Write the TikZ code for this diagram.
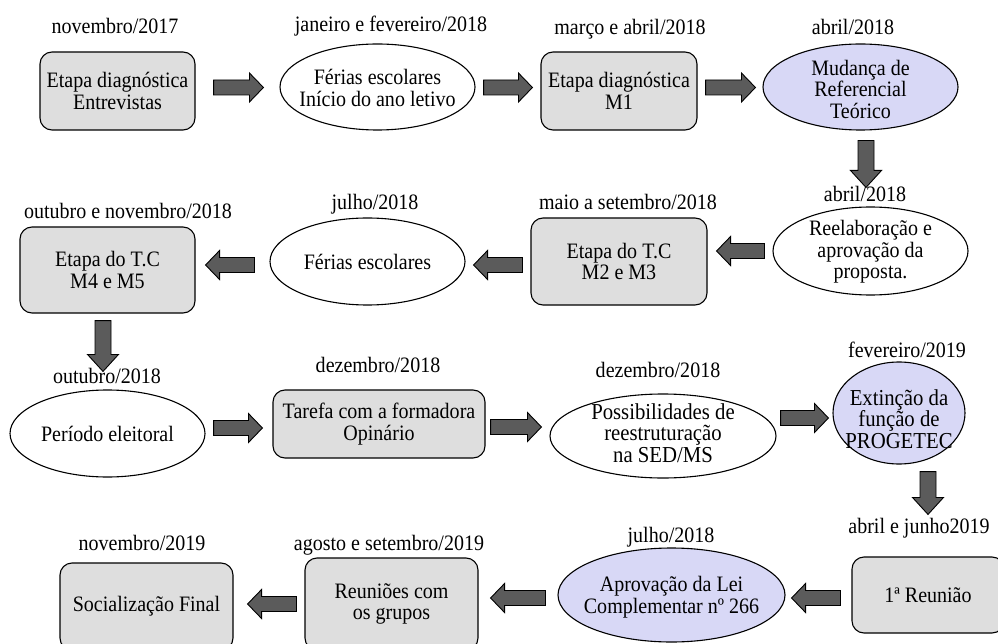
\documentclass[tikz,border=0pt]{standalone}
\usepackage{fontspec}
\setmainfont{Liberation Serif}[FakeStretch=0.91]
\usetikzlibrary{calc,shapes.geometric}
\definecolor{boxgray}{HTML}{DEDEDE}
\definecolor{ellblue}{HTML}{D8D8F6}
\definecolor{arrgray}{HTML}{5B5B5B}
\tikzset{
  every node/.style={font=\fontsize{22}{21.5}\selectfont},
  rbox/.style={draw, line width=1.1pt, fill=boxgray, rounded corners=12pt, align=center, inner sep=0pt},
  ell/.style={draw, line width=1.1pt, ellipse, fill=white, inner sep=0pt},
  bell/.style={ell, fill=ellblue},
  txt/.style={align=center, inner sep=0pt},
  bigtxt/.style={txt, font=\fontsize{22.8}{21.5}\selectfont},
  datelbl/.style={anchor=base, inner sep=0pt},
  blk/.style={draw=black, fill=arrgray, line width=0.9pt, line join=miter},
  blkR/.style={blk, to path={let \p1=(\tikztostart), \p2=(\tikztotarget) in
    ({\x1},{\y1+7.5pt}) -- ({\x2-14pt},{\y1+7.5pt}) -- ({\x2-14pt},{\y1+14.5pt}) -- ({\x2},{\y1})
    -- ({\x2-14pt},{\y1-14.5pt}) -- ({\x2-14pt},{\y1-7.5pt}) -- ({\x1},{\y1-7.5pt}) -- cycle}},
  blkL/.style={blk, to path={let \p1=(\tikztostart), \p2=(\tikztotarget) in
    ({\x1},{\y1+7.5pt}) -- ({\x2+14pt},{\y1+7.5pt}) -- ({\x2+14pt},{\y1+14.5pt}) -- ({\x2},{\y1})
    -- ({\x2+14pt},{\y1-14.5pt}) -- ({\x2+14pt},{\y1-7.5pt}) -- ({\x1},{\y1-7.5pt}) -- cycle}},
  blkD/.style={blk, to path={let \p1=(\tikztostart), \p2=(\tikztotarget) in
    ({\x1-8pt},{\y1}) -- ({\x1-8pt},{\y2+17pt}) -- ({\x1-15.5pt},{\y2+17pt}) -- ({\x1},{\y2})
    -- ({\x1+15.5pt},{\y2+17pt}) -- ({\x1+8pt},{\y2+17pt}) -- ({\x1+8pt},{\y1}) -- cycle}},
}
\begin{document}
\begin{tikzpicture}[x=1pt,y=-1pt]
\useasboundingbox (0,0) rectangle (998,644);

% ---------- Row 1 ----------
\node[datelbl] (l1) at (115,34) {novembro/2017};
\node[rbox, minimum width=155pt, minimum height=78pt] (b1) at (117.5,91) {Etapa diagnóstica\\Entrevistas};

\node[datelbl] (l2) at (391,32) {janeiro e fevereiro/2018};
\node[ell, minimum width=195pt, minimum height=86pt] (e1) at (377.5,87) {};
\node[txt] (e1t) at (377.5,88) {Férias escolares\\Início do ano letivo};

\node[datelbl] (l3) at (630,35) {março e abril/2018};
\node[rbox, minimum width=156pt, minimum height=78pt] (b2) at (619,91) {Etapa diagnóstica\\M1};

\node[datelbl] (l4) at (853,35) {abril/2018};
\node[bell, minimum width=195pt, minimum height=86pt] (e2) at (860.5,87) {};
\node[txt] (e2t) at (860.5,89) {Mudança de\\Referencial\\Teórico};

% ---------- Row 2 ----------
\node[datelbl] (l5) at (865,202) {abril/2018};
\node[ell, minimum width=195pt, minimum height=88pt] (e3) at (870.5,251) {};
\node[txt] (e3t) at (870.5,252) {Reelaboração e\\aprovação da\\proposta.};

\node[datelbl] (l6) at (628,210) {maio a setembro/2018};
\node[rbox, minimum width=176pt, minimum height=87pt] (b3) at (619,261.5) {Etapa do T.C\\M2 e M3};

\node[datelbl] (l7) at (375,210) {julho/2018};
\node[ell, minimum width=195pt, minimum height=87pt] (e4) at (367.5,261.5) {};
\node[txt] (e4t) at (367.5,262) {Férias escolares};

\node[datelbl] (l8) at (128,219) {outubro e novembro/2018};
\node[rbox, minimum width=175pt, minimum height=86pt] (b4) at (107.5,270) {Etapa do T.C\\M4 e M5};

% ---------- Row 3 ----------
\node[datelbl] (l9) at (107,383) {outubro/2018};
\node[ell, minimum width=195pt, minimum height=87pt] (e5) at (107.5,433.5) {};
\node[txt] (e5t) at (107.5,434) {Período eleitoral};

\node[datelbl] (l10) at (378,372) {dezembro/2018};
\node[rbox, minimum width=212pt, minimum height=68pt] (b5) at (379,424) {Tarefa com a formadora\\Opinário};

\node[datelbl] (l11) at (658,377) {dezembro/2018};
\node[ell, minimum width=226pt, minimum height=84pt] (e6) at (663,436) {};
\node[bigtxt] (e6t) at (663,433) {Possibilidades de\\reestruturação\\na SED/MS};

\node[datelbl] (l12) at (907,357) {fevereiro/2019};
\node[bell, minimum width=132pt, minimum height=102pt] (e7) at (899,413) {};
\node[bigtxt] (e7t) at (899,419) {Extinção da\\função de\\PROGETEC};

% ---------- Row 4 ----------
\node[datelbl] (l13) at (919,533) {abril e junho2019};
\node[rbox, minimum width=152pt, minimum height=76pt] (b6) at (928,595) {1ª Reunião};

\node[datelbl] (l14) at (671,542) {julho/2018};
\node[bell, minimum width=227pt, minimum height=94pt] (e8) at (671.5,595) {};
\node[txt] (e8t) at (671.5,597) {Aprovação da Lei\\Complementar nº 266};

\node[datelbl] (l15) at (389,550) {agosto e setembro/2019};
\node[rbox, minimum width=173pt, minimum height=92pt] (b7) at (391.5,604) {Reuniões com\\os grupos};

\node[datelbl] (l16) at (142,550) {novembro/2019};
\node[rbox, minimum width=173pt, minimum height=87pt] (b8) at (146.5,606.5) {Socialização Final};

% ---------- Block arrows ----------
\draw[blkR] ([xshift=18pt,yshift=3.5pt]b1.east) to ([xshift=-16pt]e1.west);
\draw[blkR] ([xshift=8pt,yshift=-0.5pt]e1.east) to ([xshift=-8pt]b2.west);
\draw[blkR] ([xshift=8pt,yshift=3.5pt]b2.east) to ([xshift=-7pt]e2.west);
\draw[blkD] ([xshift=5.5pt,yshift=-10pt]e2.south) to ([xshift=-4.5pt,yshift=19pt]e3.north);
\draw[blkL] ([xshift=-8pt]e3.west) to ([xshift=9pt]b3.east);
\draw[blkL] ([xshift=-8pt,yshift=-3.5pt]b3.west) to ([xshift=8pt]e4.east);
\draw[blkL] ([xshift=-15pt,yshift=-3.5pt]e4.west) to ([xshift=10pt]b4.east);
\draw[blkD] ([xshift=-4.5pt,yshift=-7pt]b4.south) to ([xshift=-4.5pt,yshift=18pt]e5.north);
\draw[blkR] ([xshift=8pt,yshift=5.5pt]e5.east) to ([xshift=-10pt]b5.west);
\draw[blkR] ([xshift=5pt,yshift=-3pt]b5.east) to ([xshift=-8pt]e6.west);
\draw[blkR] ([xshift=4pt,yshift=18pt]e6.east) to ([xshift=-4pt]e7.west);
\draw[blkD] ([xshift=29pt,yshift=-7pt]e7.south) to ([yshift=42pt]b6.north);
\draw[blkL] ([xshift=-11pt,yshift=-3pt]b6.west) to ([xshift=6pt]e8.east);
\draw[blkL] ([xshift=-12pt,yshift=-3pt]e8.west) to ([xshift=12pt]b7.east);
\draw[blkL] ([xshift=-8pt]b7.west) to ([xshift=14pt]b8.east);
\end{tikzpicture}
\end{document}
